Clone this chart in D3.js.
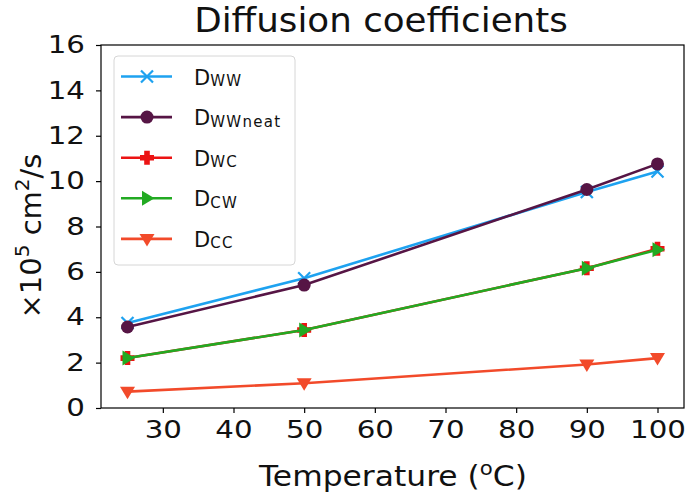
<!DOCTYPE html>
<html><head><meta charset="utf-8">
<script src="https://cdn.jsdelivr.net/npm/d3@7"></script>
<style>body{margin:0;background:#fff}svg{display:block}text{font-family:"DejaVu Sans",sans-serif}</style>
</head><body><svg id="c" width="685" height="495"></svg>
<script>
const temps = [25, 50, 90, 100];
const seriesNames = ["WW", "WWneat", "WC", "CW", "CC"];
const dWW = [3.75, 5.72, 9.52, 10.42];
const dWWneat = [3.57, 5.42, 9.63, 10.76];
const dWC = [2.2, 3.44, 6.16, 7.02];
const dCW = [2.2, 3.44, 6.16, 6.98];
const dCC = [0.72, 1.09, 1.92, 2.2];
const xTicks = [30, 40, 50, 60, 70, 80, 90, 100];
const yTicks = [0, 2, 4, 6, 8, 10, 12, 14, 16];

const series = [
  {sub: seriesNames[0], vals: dWW, color: "#1ea2f0", marker: "x"},
  {sub: seriesNames[1], vals: dWWneat, color: "#561545", marker: "o"},
  {sub: seriesNames[2], vals: dWC, color: "#ec1313", marker: "P"},
  {sub: seriesNames[3], vals: dCW, color: "#22aa22", marker: ">"},
  {sub: seriesNames[4], vals: dCC, color: "#f24a2a", marker: "v"}
];

const L = 101, R = 684, T = 45, B = 408;
const svg = d3.select("#c");
const x = d3.scaleLinear().domain([21.25, 103.75]).range([L, R]);
const y = d3.scaleLinear().domain([0, 16]).range([B, T]);

// axes
const xa = svg.append("g").attr("transform", `translate(0,${B})`)
  .call(d3.axisBottom(x).tickValues(xTicks).tickSize(5).tickPadding(8).tickSizeOuter(0));
const ya = svg.append("g").attr("transform", `translate(${L},0)`)
  .call(d3.axisLeft(y).tickValues(yTicks).tickSize(5).tickPadding(11).tickSizeOuter(0));
[xa, ya].forEach(a => {
  a.select(".domain").remove();
  a.selectAll("line").attr("stroke", "#000").attr("stroke-width", 1.2);
  a.selectAll("text").attr("font-size", 24).attr("fill", "#111");
});
xa.selectAll("text").attr("transform", "scale(1.22,1)");
ya.selectAll("text").each(function() {
  const t = d3.select(this);
  const tx = +t.attr("x");
  t.attr("x", 0).attr("transform", `translate(${tx},0) scale(1.22,1)`);
});
svg.append("rect").attr("x", L).attr("y", T).attr("width", R - L).attr("height", B - T)
  .attr("fill", "none").attr("stroke", "#000").attr("stroke-width", 1.2);

function drawMarker(g, m, cx, cy, color) {
  if (m === "x") {
    const s = 6;
    g.append("path").attr("d", `M${cx-s},${cy-s}L${cx+s},${cy+s}M${cx-s},${cy+s}L${cx+s},${cy-s}`)
      .attr("stroke", color).attr("stroke-width", 2.2).attr("fill", "none");
  } else if (m === "o") {
    g.append("circle").attr("cx", cx).attr("cy", cy).attr("r", 6.5).attr("fill", color);
  } else if (m === "P") {
    const a = 2.8, b = 7;
    g.append("path").attr("d", `M${cx-a},${cy-b}H${cx+a}V${cy-a}H${cx+b}V${cy+a}H${cx+a}V${cy+b}H${cx-a}V${cy+a}H${cx-b}V${cy-a}H${cx-a}Z`)
      .attr("fill", color);
  } else if (m === ">") {
    g.append("path").attr("d", `M${cx+7.5},${cy}L${cx-5},${cy-7.5}L${cx-5},${cy+7.5}Z`).attr("fill", color);
  } else if (m === "v") {
    g.append("path").attr("d", `M${cx},${cy+7.5}L${cx-7.5},${cy-5}L${cx+7.5},${cy-5}Z`).attr("fill", color);
  }
}

const line = d3.line().x((d, i) => x(temps[i])).y(d => y(d));
series.forEach(s => {
  const g = svg.append("g");
  g.append("path").attr("d", line(s.vals)).attr("fill", "none")
    .attr("stroke", s.color).attr("stroke-width", 2.6);
  s.vals.forEach((v, i) => drawMarker(g, s.marker, x(temps[i]), y(v), s.color));
});

// legend
const lg = svg.append("g");
lg.append("rect").attr("x", 114).attr("y", 56).attr("width", 181).attr("height", 209)
  .attr("rx", 4).attr("fill", "#fff").attr("fill-opacity", 0.85).attr("stroke", "#d6d6d6").attr("stroke-width", 1);
series.forEach((s, i) => {
  const ly = 76.5 + i * 40.6;
  lg.append("line").attr("x1", 121).attr("x2", 172).attr("y1", ly).attr("y2", ly)
    .attr("stroke", s.color).attr("stroke-width", 2.6);
  drawMarker(lg, s.marker, 147, ly, s.color);
  const t = lg.append("text").attr("x", 194).attr("y", ly + 8).attr("font-size", 21).attr("fill", "#111");
  t.append("tspan").text("D");
  t.append("tspan").attr("font-size", 15).attr("dy", 1.5).attr("letter-spacing", 1.3).text(s.sub);
});

function stretched(sel, tx, ty, sx, rot) {
  const g = sel.append("g").attr("transform", `translate(${tx},${ty})${rot ? " rotate(" + rot + ")" : ""} scale(${sx},1)`);
  return g.append("text").attr("x", 0).attr("y", 0);
}

// title and labels
stretched(svg, 381, 32, 1.05).attr("text-anchor", "middle")
  .attr("font-size", 34).attr("fill", "#111").text("Diffusion coefficients");
const xl = stretched(svg, 393, 486, 1.12).attr("text-anchor", "middle")
  .attr("font-size", 28).attr("fill", "#111");
xl.append("tspan").text("Temperature (");
xl.append("tspan").attr("font-size", 19).attr("dy", -11).text("o");
xl.append("tspan").attr("dy", 11).text("C)");
const yl = svg.append("text").attr("transform", `translate(41,236) rotate(-90)`)
  .attr("text-anchor", "middle").attr("font-size", 29).attr("fill", "#111");
yl.append("tspan").text("×10");
yl.append("tspan").attr("font-size", 20).attr("dy", -12).text("5");
yl.append("tspan").attr("dy", 12).text(" cm");
yl.append("tspan").attr("font-size", 20).attr("dy", -12).text("2");
yl.append("tspan").attr("dy", 12).text("/s");
</script></body></html>
